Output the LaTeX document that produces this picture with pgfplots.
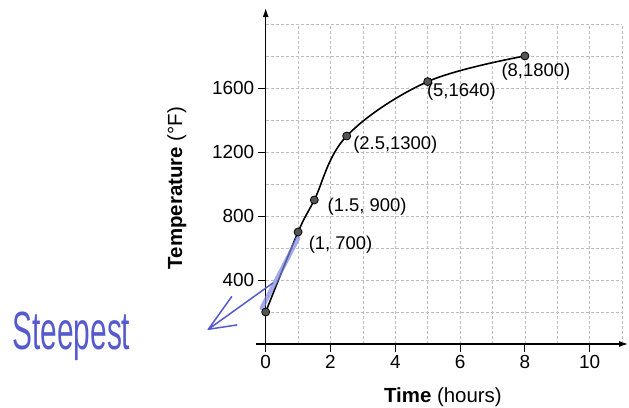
\documentclass[border=0pt]{standalone}
\usepackage{fontspec}
\setmainfont{Liberation Sans}
\usepackage{pgfplots}
\pgfplotsset{compat=1.18}
\usetikzlibrary{arrows.meta}
\definecolor{ink}{RGB}{85,90,205}
\definecolor{inklight}{RGB}{125,135,225}
\definecolor{gridc}{RGB}{190,190,190}
\definecolor{dotc}{RGB}{85,85,85}
\begin{document}
\begin{tikzpicture}
\begin{axis}[
  scale only axis, width=356.4bp, height=320bp,
  xmin=0, xmax=11, ymin=0, ymax=2000,
  axis lines=left,
  clip=false,
  x axis line style={-{Latex[length=9bp,width=6bp]}, shorten <=-10bp, shorten >=-6bp, line width=1.3bp},
  y axis line style={-{Latex[length=9bp,width=6bp]}, shorten <=-8bp, shorten >=-16bp, line width=1.3bp},
  xtick={0,2,...,10}, minor xtick={1,3,...,11},
  ytick={400,800,1200,1600}, minor ytick={200,600,1000,1400,1800,2000},
  grid=both,
  major grid style={gridc, dashed, dash pattern=on 3bp off 2bp, line width=0.5bp},
  minor grid style={gridc, dashed, dash pattern=on 3bp off 2bp, line width=0.5bp},
  tick align=outside,
  major tick length=8bp, minor tick length=0pt,
  tick style={black, line width=1bp},
  tick label style={font=\fontsize{19}{21}\selectfont},
  /pgf/number format/assume math mode=true,
  /pgf/number format/1000 sep={},
]
\addplot[black, line width=1.6bp, smooth, tension=0.6,
  mark=*, mark size=4bp, mark options={fill=dotc, draw=black, line width=0.8bp}]
  coordinates {(0,200) (1,700) (1.5,900) (2.5,1300) (5,1640) (8,1800)};

\begin{scope}[font=\fontsize{18.5}{20}\selectfont]
\node at (axis cs:2.31,619) {(1, 700)};
\node at (axis cs:3.13,856) {(1.5, 900)};
\node at (axis cs:4.0,1244) {(2.5,1300)};
\node at (axis cs:6.04,1575) {(5,1640)};
\node at (axis cs:8.34,1700) {(8,1800)};
\end{scope}

\node[font=\fontsize{20.5}{22}\selectfont] at (axis cs:5.47,-331) {\textbf{Time} (hours)};
\node[font=\fontsize{20.5}{22}\selectfont, rotate=90] at (axis cs:-2.74,975) {\textbf{Temperature} (°F)};

% handwritten annotation
\addplot[inklight, opacity=0.7, line width=4.5bp, line cap=round] coordinates {(-0.12,225) (1.0,662)};
\draw[ink, line width=1.5bp, line cap=round, line join=round]
  (axis cs:0.22,381) -- (axis cs:-1.77,92) -- (axis cs:-1.05,296);
\draw[ink, line width=1.5bp, line cap=round] (axis cs:-1.77,92) -- (axis cs:-0.89,119);
\node[ink, font=\fontsize{30}{32}\selectfont, yscale=1.8] at (axis cs:-6.0,50) {Steepest};

\coordinate (bbl) at (axis cs:-8.2006,-400);
\coordinate (btr) at (axis cs:11.213,2150);
\end{axis}
\pgfresetboundingbox
\path (bbl) rectangle (btr);
\end{tikzpicture}
\end{document}
